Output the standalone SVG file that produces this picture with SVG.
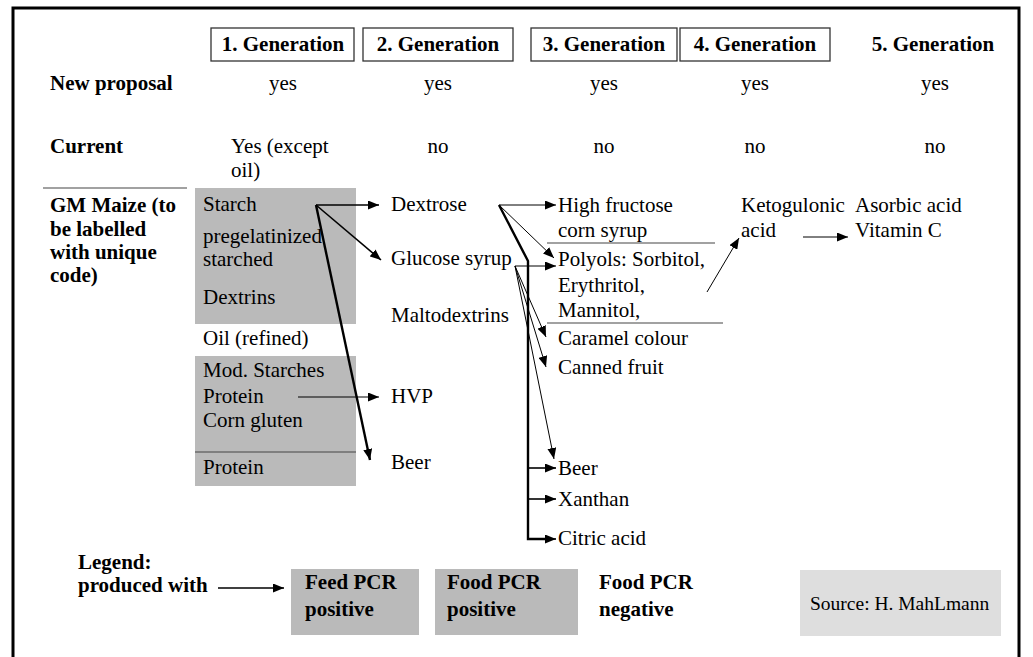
<svg xmlns="http://www.w3.org/2000/svg" width="1033" height="657" viewBox="0 0 1033 657">
<style>
text{font-family:"Liberation Serif","Times New Roman",serif;font-size:21px;fill:#000}
.b{font-weight:bold}
.m{text-anchor:middle}
.hdr{fill:#fff;stroke:#333;stroke-width:1.3}
.gray{fill:#bababa}
.sep{stroke:#444;stroke-width:1.2;fill:none}
.c1{stroke:#000;stroke-width:1;fill:none}
.c2{stroke:#000;stroke-width:1.6;fill:none}
.c3{stroke:#000;stroke-width:2.4;fill:none}
</style>
<defs>
<marker id="ah" markerUnits="userSpaceOnUse" markerWidth="11" markerHeight="9" refX="11" refY="4.5" orient="auto">
<path d="M0,0 L11,4.5 L0,9 z" fill="#000"/>
</marker>
</defs>
<rect width="1033" height="657" fill="#fff"/>
<path d="M13,657 V8 H1019 V657" fill="none" stroke="#000" stroke-width="3"/>

<g id="header">
<g id="gen1"><rect class="hdr" x="211" y="28" width="143" height="33"/><text class="b m" x="283" y="51">1. Generation</text></g>
<g id="gen2"><rect class="hdr" x="363" y="28" width="150" height="33"/><text class="b m" x="438" y="51">2. Generation</text></g>
<g id="gen3"><rect class="hdr" x="531" y="28" width="146" height="33"/><text class="b m" x="604" y="51">3. Generation</text></g>
<g id="gen4"><rect class="hdr" x="680" y="28" width="150" height="33"/><text class="b m" x="755" y="51">4. Generation</text></g>
<g id="gen5"><text class="b m" x="933" y="51">5. Generation</text></g>
</g>

<g id="row-new">
<text class="b" x="50" y="90">New proposal</text>
<text class="m" x="283" y="90">yes</text>
<text class="m" x="438" y="90">yes</text>
<text class="m" x="604" y="90">yes</text>
<text class="m" x="755" y="90">yes</text>
<text class="m" x="935" y="90">yes</text>
</g>

<g id="row-current">
<text class="b" x="50" y="153">Current</text>
<text x="231" y="153">Yes (except</text>
<text x="231" y="177">oil)</text>
<text class="m" x="438" y="153">no</text>
<text class="m" x="604" y="153">no</text>
<text class="m" x="755" y="153">no</text>
<text class="m" x="935" y="153">no</text>
</g>

<g id="gm-maize">
<line class="sep" x1="43" y1="188" x2="187" y2="188"/>
<text class="b" x="50" y="212">GM Maize (to</text>
<text class="b" x="50" y="236">be labelled</text>
<text class="b" x="50" y="259">with unique</text>
<text class="b" x="50" y="282">code)</text>
</g>

<g id="gen1-feed">
<rect class="gray" x="195" y="188" width="161" height="136"/>
<text x="203" y="243">pregelatinized</text>
<text x="203" y="211">Starch</text>
<text x="203" y="266">starched</text>
<text x="203" y="304">Dextrins</text>
</g>
<g id="gen1-oil"><text x="203" y="345">Oil (refined)</text></g>
<g id="gen1-feed2">
<rect class="gray" x="195" y="356" width="161" height="130"/>
<line class="sep" x1="195" y1="452" x2="356" y2="452"/>
<text x="203" y="377">Mod. Starches</text>
<text x="203" y="403">Protein</text>
<text x="203" y="427">Corn gluten</text>
<text x="203" y="474">Protein</text>
</g>

<g id="gen2-items">
<text x="391" y="211">Dextrose</text>
<text x="391" y="265">Glucose syrup</text>
<text x="391" y="322">Maltodextrins</text>
<text x="391" y="403">HVP</text>
<text x="391" y="469">Beer</text>
</g>

<g id="gen3-items">
<text x="558" y="212">High fructose</text>
<text x="558" y="237">corn syrup</text>
<line class="sep" x1="547" y1="243" x2="715" y2="243"/>
<text x="558" y="266">Polyols: Sorbitol,</text>
<text x="558" y="292">Erythritol,</text>
<text x="558" y="317">Mannitol,</text>
<line class="sep" x1="547" y1="323" x2="723" y2="323"/>
<text x="558" y="345">Caramel colour</text>
<text x="558" y="374">Canned fruit</text>
<text x="558" y="475">Beer</text>
<text x="558" y="506">Xanthan</text>
<text x="558" y="545">Citric acid</text>
</g>

<g id="gen4-items">
<text x="741" y="212">Ketogulonic</text>
<text x="741" y="237">acid</text>
</g>
<g id="gen5-items">
<text x="855" y="212">Asorbic acid</text>
<text x="855" y="237">Vitamin C</text>
</g>

<g id="connectors">
<line class="c2" x1="316" y1="205" x2="379" y2="205" marker-end="url(#ah)"/>
<line class="c2" x1="316" y1="205" x2="381" y2="260" marker-end="url(#ah)"/>
<line class="c3" x1="316" y1="205" x2="370" y2="460" marker-end="url(#ah)"/>
<line class="c1" x1="298" y1="397" x2="379" y2="397" marker-end="url(#ah)"/>
<line class="c1" x1="499" y1="205" x2="556" y2="205" marker-end="url(#ah)"/>
<line class="c1" x1="499" y1="205" x2="554" y2="258" marker-end="url(#ah)"/>
<polyline class="c3" points="499,205 528,261 528,539 545,539"/>
<line class="c2" x1="545" y1="539" x2="556" y2="539" marker-end="url(#ah)"/>
<line class="c2" x1="528" y1="468" x2="556" y2="468" marker-end="url(#ah)"/>
<line class="c2" x1="528" y1="499" x2="556" y2="499" marker-end="url(#ah)"/>
<line class="c1" x1="515" y1="266" x2="556" y2="266" marker-end="url(#ah)"/>
<line class="c1" x1="515" y1="266" x2="546" y2="337" marker-end="url(#ah)"/>
<line class="c1" x1="515" y1="266" x2="546" y2="367" marker-end="url(#ah)"/>
<line class="c1" x1="515" y1="266" x2="554" y2="459" marker-end="url(#ah)"/>
<line class="c1" x1="707" y1="292" x2="739" y2="238" marker-end="url(#ah)"/>
<line class="c1" x1="803" y1="237" x2="848" y2="237" marker-end="url(#ah)"/>
</g>

<g id="legend">
<text class="b" x="78" y="569">Legend:</text>
<text class="b" x="78" y="592">produced with</text>
<line class="c2" x1="218" y1="588" x2="284" y2="588" marker-end="url(#ah)"/>
<g id="legend-feed"><rect class="gray" x="291" y="569" width="128" height="66"/><text class="b" x="305" y="589">Feed PCR</text><text class="b" x="305" y="616">positive</text></g>
<g id="legend-food-pos"><rect class="gray" x="435" y="569" width="143" height="66"/><text class="b" x="447" y="589">Food PCR</text><text class="b" x="447" y="616">positive</text></g>
<g id="legend-food-neg"><text class="b" x="599" y="589">Food PCR</text><text class="b" x="599" y="616">negative</text></g>
<g id="source"><rect x="800" y="570" width="201" height="66" fill="#dedede"/><text x="810" y="610" style="font-size:19.5px">Source: H. MahLmann</text></g>
</g>
</svg>
